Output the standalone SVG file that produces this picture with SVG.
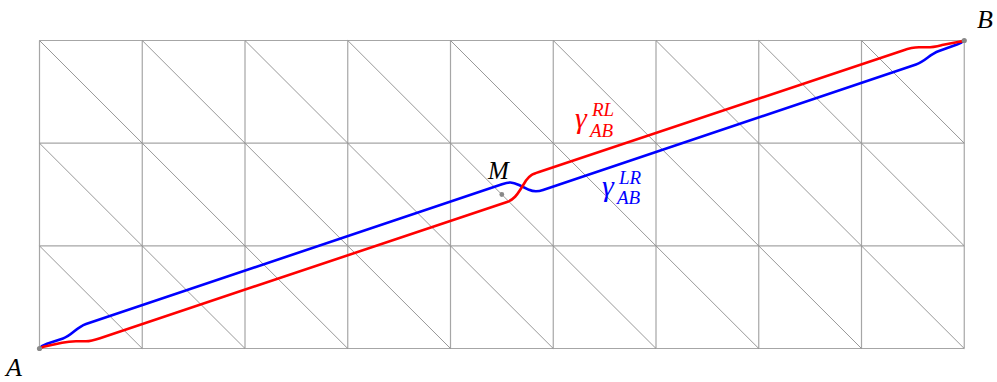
<svg xmlns="http://www.w3.org/2000/svg" width="997" height="382" viewBox="0 0 997 382">
<style>
.grid{fill:none;stroke:#a6a6a6;stroke-width:1.2}
.diag{fill:none;stroke:#8c8c8c;stroke-width:0.9}
.curve{fill:none;stroke-width:2.6;stroke-linejoin:round;stroke-linecap:round}
.lbl{font-family:"Liberation Serif","DejaVu Serif",serif;font-style:italic}
.pt{fill:#888}
</style>
<rect width="997" height="382" fill="#fff"/>
<g id="mesh">
<path class="grid" d="M39.5,40.5H964.25M39.5,143.2H964.25M39.5,245.9H964.25M39.5,348.5H964.25M39.5,40.5V348.5M142.25,40.5V348.5M245,40.5V348.5M347.75,40.5V348.5M450.5,40.5V348.5M553.25,40.5V348.5M656,40.5V348.5M758.75,40.5V348.5M861.5,40.5V348.5M964.25,40.5V348.5"/>
<path class="diag" d="M39.5,40.5L142.25,143.2M142.25,40.5L245,143.2M245,40.5L347.75,143.2M347.75,40.5L450.5,143.2M450.5,40.5L553.25,143.2M553.25,40.5L656,143.2M656,40.5L758.75,143.2M758.75,40.5L861.5,143.2M861.5,40.5L964.25,143.2M39.5,143.2L142.25,245.9M142.25,143.2L245,245.9M245,143.2L347.75,245.9M347.75,143.2L450.5,245.9M450.5,143.2L553.25,245.9M553.25,143.2L656,245.9M656,143.2L758.75,245.9M758.75,143.2L861.5,245.9M861.5,143.2L964.25,245.9M39.5,245.9L142.25,348.5M142.25,245.9L245,348.5M245,245.9L347.75,348.5M347.75,245.9L450.5,348.5M450.5,245.9L553.25,348.5M553.25,245.9L656,348.5M656,245.9L758.75,348.5M758.75,245.9L861.5,348.5M861.5,245.9L964.25,348.5"/>
</g>
<g id="connectors">
<path id="gammaLR" class="curve" stroke="#0000ff" d="M39.5,348.5 Q42,345.5 47,343.8 L63,338.5 C72,335.5 76,327.5 86,324 L502,184.3 C509,181.8 512,181.8 519,185 L529,189.8 C534,192 537,192 543,190 L916,64.5 C926,61 929,54.5 939,51 L957,44.5 Q962,42.5 964.25,40.5"/>
<path id="gammaRL" class="curve" stroke="#ff0000" d="M39.5,348.5 Q43,346.5 48,345.8 L62,342.8 C67,341.7 70,341.2 76,341.2 L86,341.2 C91,341.2 94,340.2 100,338.2 L507,202 C515,199.2 518,193 522,187 L526,180.5 C530,175 532,174.3 539,172 L903,50.5 C910,48 913,47.3 919,47.3 L927,47.3 C933,47.3 936,46.5 942,45 L958,42 Q962,41.5 964.25,40.5"/>
</g>
<g id="nodeA"><circle class="pt" cx="39.5" cy="348.5" r="2.6"/><text class="lbl" x="6" y="376" font-size="26">A</text></g>
<g id="nodeB"><circle class="pt" cx="964.25" cy="40.5" r="2.6"/><text class="lbl" x="977" y="28" font-size="26">B</text></g>
<g id="nodeM"><circle class="pt" cx="501.8" cy="194.5" r="2.4"/><text class="lbl" x="488" y="179" font-size="25">M</text></g>
<g id="labelRL" fill="#ff0000"><text class="lbl" x="575" y="128" font-size="30">γ</text><text class="lbl" x="592" y="116" font-size="19">RL</text><text class="lbl" x="590" y="137" font-size="19">AB</text></g>
<g id="labelLR" fill="#0000ff"><text class="lbl" x="602" y="196" font-size="30">γ</text><text class="lbl" x="619" y="184" font-size="19">LR</text><text class="lbl" x="617" y="204" font-size="19">AB</text></g>
</svg>
